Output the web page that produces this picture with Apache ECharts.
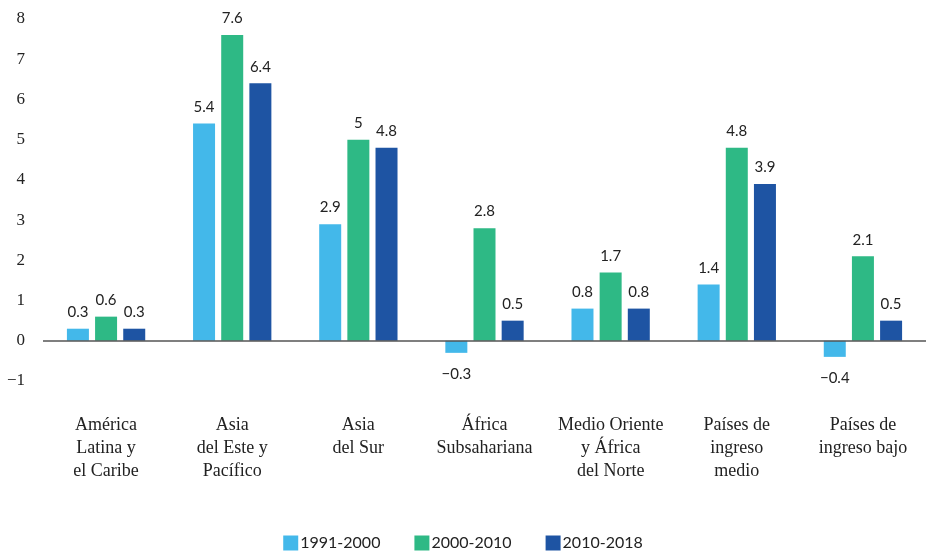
<!DOCTYPE html>
<html>
<head>
<meta charset="utf-8">
<script src="https://cdn.jsdelivr.net/npm/echarts@6/dist/echarts.min.js"></script>
<style>
html, body { margin: 0; padding: 0; background: #fff; }
#Chart { width: 926px; height: 551px; }
</style>
</head>
<body>
<div id="Chart"></div>
<script>
// datos
var categorias = [
    "América\nLatina y\nel Caribe",
    "Asia\ndel Este y\nPacífico",
    "Asia\ndel Sur",
    "África\nSubsahariana",
    "Medio Oriente\ny África\ndel Norte",
    "Países de\ningreso\nmedio",
    "Países de\ningreso bajo"
];
var nombres = ["1991-2000", "2000-2010", "2010-2018"];
var serie1 = [0.3, 5.4, 2.9, -0.3, 0.8, 1.4, -0.4];
var serie2 = [0.6, 7.6, 5, 2.8, 1.7, 4.8, 2.1];
var serie3 = [0.3, 6.4, 4.8, 0.5, 0.8, 3.9, 0.5];
var colores = ["#43b8ea", "#2eb985", "#1e54a3"];

var serifFont = "'Liberation Serif', 'DejaVu Serif', serif";
var sansFont = "Lato, 'Open Sans', sans-serif";

function menos(v) {
    return String(v).replace('-', '\u2212');
}

function armarDatos(valores) {
    return valores.map(function (v) {
        if (v < 0) {
            return { value: v, label: { position: 'bottom', distance: 14 } };
        }
        return v;
    });
}

var myChart = echarts.init(document.getElementById("Chart"));
var series = [serie1, serie2, serie3].map(function (vals, i) {
    var s = {
        name: nombres[i],
        type: 'bar',
        data: armarDatos(vals),
        barWidth: 22,
        barGap: '28%',
        itemStyle: { color: colores[i] },
        label: {
            show: true,
            position: 'top',
            distance: 9,
            color: '#222',
            fontFamily: sansFont,
            fontSize: 15,
            formatter: function (p) { return menos(p.value); }
        }
    };
    if (i === 0) {
        s.markLine = {
            silent: true,
            symbol: 'none',
            label: { show: false },
            lineStyle: { color: '#555', width: 1.5, type: 'solid' },
            data: [{ yAxis: 0 }]
        };
    }
    return s;
});

var option = {
    animation: false,
    grid: {
        left: 43,
        right: 0,
        top: 19,
        bottom: 170
    },
    legend: {
        top: 530,
        left: 'center',
        itemWidth: 15,
        itemHeight: 15,
        itemGap: 34,
        icon: 'rect',
        textStyle: { fontFamily: sansFont, fontSize: 16, color: '#222', padding: [0, 0, 0, -3] },
        data: nombres
    },
    xAxis: {
        type: 'category',
        data: categorias,
        axisLine: { show: false, onZero: false },
        axisTick: { show: false },
        axisLabel: {
            margin: 33,
            fontFamily: serifFont,
            fontSize: 18,
            lineHeight: 23,
            color: '#222',
            interval: 0
        }
    },
    yAxis: {
        type: 'value',
        min: -1,
        max: 8,
        interval: 1,
        axisLine: { show: false },
        axisTick: { show: false },
        splitLine: { show: false },
        axisLabel: {
            margin: 18,
            fontFamily: serifFont,
            fontSize: 17,
            color: '#222',
            formatter: function (v) { return menos(v); }
        }
    },
    series: series
};
myChart.setOption(option);
window.addEventListener("resize", function () {
    myChart.resize();
});
</script>
</body>
</html>
